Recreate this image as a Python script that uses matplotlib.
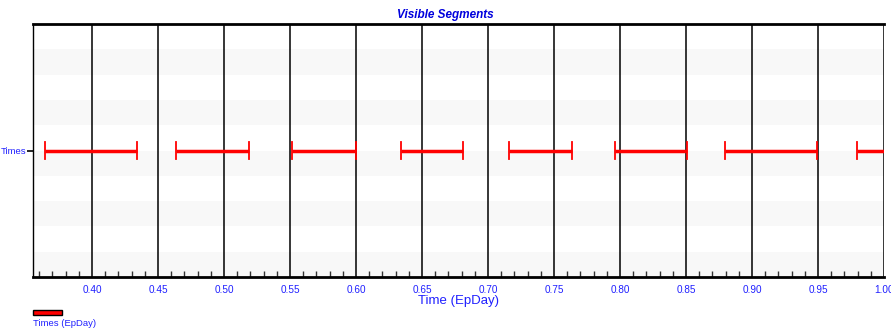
import numpy as np
import matplotlib
matplotlib.use("Agg")
import matplotlib.pyplot as plt
from matplotlib.patches import Rectangle
from matplotlib.ticker import MultipleLocator, FormatStrFormatter

plt.rcParams["font.family"] = ["Liberation Sans", "DejaVu Sans"]

# segment start / end times (EpDay)
seg_start = [0.3644, 0.4636, 0.5515, 0.6341, 0.7159, 0.7962, 0.8795, 0.9795]
seg_end = [0.4341, 0.5189, 0.6000, 0.6811, 0.7636, 0.8508, 0.9492, 1.0100]
row_labels = ["Times"]
x_min, x_max = 0.3553, 1.0

BLUE = "#2020ff"
RED = "#ff0000"

fig = plt.figure(figsize=(8.91, 3.32), dpi=100)
ax = fig.add_axes([33 / 891, 1 - 277 / 332, 851 / 891, 253 / 332])

# alternating background bands
n_bands = 10
for i in range(n_bands):
    if i % 2 == 0:
        ax.axhspan(-0.5 + i * 0.1, -0.5 + (i + 1) * 0.1, color="#f8f8f8", lw=0, zorder=0)

# vertical grid lines at major ticks
for xv in np.arange(0.40, 1.0001, 0.05):
    ax.axvline(xv, color="black", lw=1.1, zorder=1)

# segments with end caps
for s, e in zip(seg_start, seg_end):
    ax.plot([s, e], [0, 0], color=RED, lw=2.5, solid_capstyle="butt", zorder=3)
    ax.plot([s, s], [-0.035, 0.035], color=RED, lw=1.3, zorder=3)
    ax.plot([e, e], [-0.035, 0.035], color=RED, lw=1.3, zorder=3)

ax.set_xlim(x_min, x_max)
ax.set_ylim(-0.5, 0.5)
ax.xaxis.set_major_locator(MultipleLocator(0.05))
ax.xaxis.set_minor_locator(MultipleLocator(0.01))
ax.xaxis.set_major_formatter(FormatStrFormatter("%.2f"))
ax.tick_params(axis="x", which="major", direction="in", length=0, labelsize=7.2,
               labelcolor=BLUE, pad=6)
ax.tick_params(axis="x", which="minor", direction="in", length=4, width=1, color="#333333")
ax.set_yticks([0])
ax.set_yticklabels(row_labels)
ax.tick_params(axis="y", direction="out", length=4, width=1.2, labelsize=6.8,
               labelcolor=BLUE, pad=1)

for side in ["left", "top", "bottom"]:
    ax.spines[side].set_color("black")
ax.spines["left"].set_linewidth(1.0)
ax.spines["top"].set_linewidth(2.0)
ax.spines["bottom"].set_linewidth(2.0)
ax.spines["right"].set_visible(False)

ax.set_xlabel("Time (EpDay)", color=BLUE, fontsize=9.5, labelpad=0)

fig.text(445 / 891, 1 - 15 / 332, "Visible Segments", color="#0000dd", fontsize=8.5,
         fontweight="bold", style="italic", ha="center", va="center")

# legend
fig.patches.append(Rectangle((33 / 891, 1 - 315 / 332), 29 / 891, 5 / 332,
                             transform=fig.transFigure, facecolor=RED,
                             edgecolor="black", lw=1))
fig.text(33 / 891, 1 - 323 / 332, "Times (EpDay)", color=BLUE, fontsize=6.8,
         ha="left", va="center")

fig.savefig("out.png", dpi=100)
